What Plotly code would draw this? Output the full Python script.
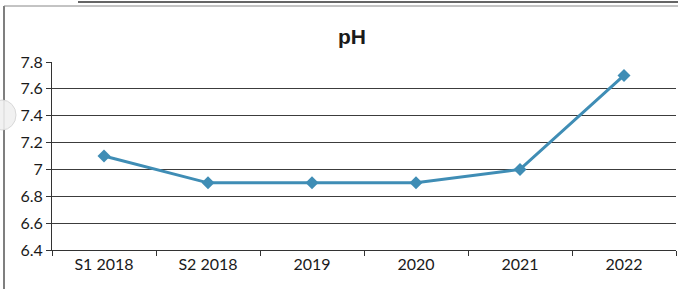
import plotly.graph_objects as go

categories = ["S1 2018", "S2 2018", "2019", "2020", "2021", "2022"]
ph_values = [7.1, 6.9, 6.9, 6.9, 7.0, 7.7]
y_tick_vals = [6.4, 6.6, 6.8, 7.0, 7.2, 7.4, 7.6, 7.8]
y_tick_text = ["6.4", "6.6", "6.8", "7", "7.2", "7.4", "7.6", "7.8"]

line_color = "#3f8db5"

fig = go.Figure()
fig.add_trace(go.Scatter(
    x=categories, y=ph_values, mode="lines+markers",
    line=dict(color=line_color, width=3),
    marker=dict(symbol="diamond", size=10, color=line_color),
    showlegend=False, hoverinfo="skip",
))

PW, PH = 624, 188  # plot area size
fig.update_layout(
    width=678, height=289,
    margin=dict(l=52, r=2, t=62, b=39),
    paper_bgcolor="white", plot_bgcolor="white",
    title=dict(text="<b>pH</b>", x=352/678, xanchor="center", y=1-37/289, yanchor="middle",
               font=dict(family="Liberation Sans, Arial", size=21, color="#1a1a1a")),
    font=dict(family="Lato, Open Sans, sans-serif", size=16, color="#1a1a1a"),
    xaxis=dict(
        type="category", showgrid=False, showline=True, linecolor="#333", linewidth=1,
        ticks="outside", ticklen=5, tickcolor="#333", tickson="boundaries",
        tickfont=dict(size=16, color="#1a1a1a"), range=[-0.5, 5.5],
    ),
    yaxis=dict(
        range=[6.4, 7.8], tickvals=y_tick_vals, ticktext=y_tick_text,
        showgrid=True, gridcolor="#3c3c3c", gridwidth=1,
        showline=True, linecolor="#333", linewidth=1,
        ticks="outside", ticklen=5, tickcolor="#333",
        tickfont=dict(size=16, color="#1a1a1a"), zeroline=False,
    ),
    shapes=[
        dict(type="line", xref="paper", yref="paper", x0=-48/PW, x1=-48/PW,
             y0=-39/PH, y1=(250-6)/PH, line=dict(color="#555", width=1.5)),
        dict(type="line", xref="paper", yref="paper", x0=-48/PW, x1=(678-52)/PW,
             y0=(250-6)/PH, y1=(250-6)/PH, line=dict(color="#888", width=1)),
        dict(type="line", xref="paper", yref="paper", x0=(78-52)/PW, x1=(678-52)/PW,
             y0=(250-2)/PH, y1=(250-2)/PH, line=dict(color="#333", width=1.5)),
        dict(type="circle", xref="paper", yref="paper", layer="above",
             x0=(-12-52)/PW, x1=(16-52)/PW, y0=(250-130)/PH, y1=(250-100)/PH,
             fillcolor="rgba(240,240,240,0.9)", line=dict(color="#d8d8d8", width=1)),
    ],
)

fig.write_html("out.html", config={"displayModeBar": False},
               post_script="document.body.style.margin='0';")
